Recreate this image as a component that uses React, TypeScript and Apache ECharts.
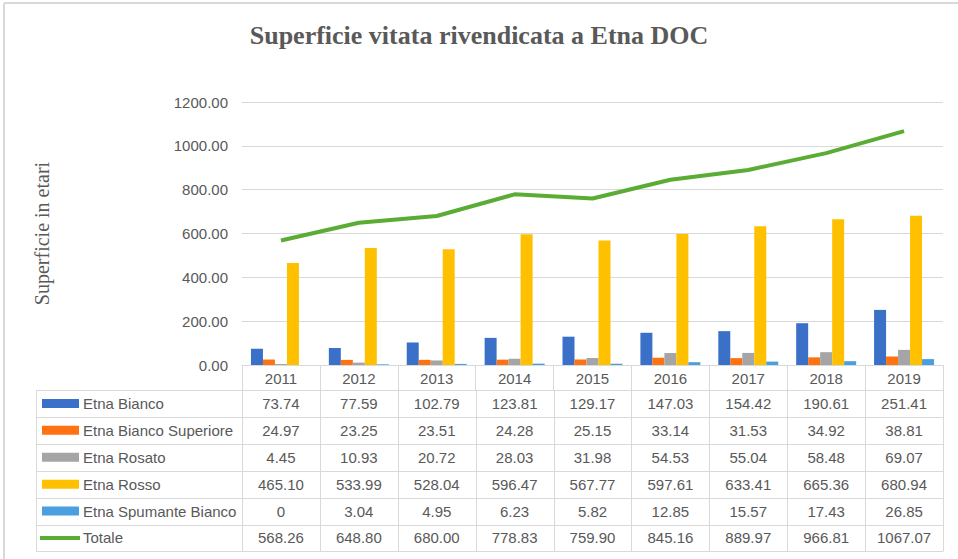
import React, { useEffect, useRef } from "react";
import * as echarts from "echarts";

const years = ["2011", "2012", "2013", "2014", "2015", "2016", "2017", "2018", "2019"];
const etnaBianco = [73.74, 77.59, 102.79, 123.81, 129.17, 147.03, 154.42, 190.61, 251.41];
const etnaBiancoSuperiore = [24.97, 23.25, 23.51, 24.28, 25.15, 33.14, 31.53, 34.92, 38.81];
const etnaRosato = [4.45, 10.93, 20.72, 28.03, 31.98, 54.53, 55.04, 58.48, 69.07];
const etnaRosso = [465.1, 533.99, 528.04, 596.47, 567.77, 597.61, 633.41, 665.36, 680.94];
const etnaSpumanteBianco = [0, 3.04, 4.95, 6.23, 5.82, 12.85, 15.57, 17.43, 26.85];
const totale = [568.26, 648.8, 680.0, 778.83, 759.9, 845.16, 889.97, 966.81, 1067.07];

const barSeries = [
  { name: "Etna Bianco", data: etnaBianco, color: "#3B70C9" },
  { name: "Etna Bianco Superiore", data: etnaBiancoSuperiore, color: "#FF7212" },
  { name: "Etna Rosato", data: etnaRosato, color: "#A5A5A5" },
  { name: "Etna Rosso", data: etnaRosso, color: "#FFC000" },
  { name: "Etna Spumante Bianco", data: etnaSpumanteBianco, color: "#4A9FE0" },
];
const lineSeries = { name: "Totale", data: totale, color: "#5BAC35" };

const TEXT = "#595959";
const GRID_LINE = "#d9d9d9";
const FONT = "'Liberation Sans', Arial, sans-serif";
const SERIF = "'Liberation Serif', 'Times New Roman', serif";

const fmt = (v: number) => (v === 0 ? "0" : v.toFixed(2));

export default function App() {
  const ref = useRef<HTMLDivElement>(null);
  useEffect(() => {
    if (!ref.current) return;
    const chart = echarts.init(ref.current, undefined, { renderer: "svg" });
    const option: any = {
      animation: false,
      backgroundColor: "#ffffff",
      title: {
        text: "Superficie vitata rivendicata a Etna DOC",
        left: "center",
        top: 17,
        textStyle: { fontFamily: SERIF, fontSize: 26, fontWeight: "bold", color: TEXT },
      },
      grid: { left: 242, right: 15, top: 102, bottom: 194 },
      xAxis: {
        type: "category",
        data: years,
        axisLine: { show: true, lineStyle: { color: GRID_LINE, width: 1 } },
        axisTick: { show: true, length: 25, lineStyle: { color: GRID_LINE } },
        axisLabel: { color: TEXT, fontFamily: FONT, fontSize: 15, margin: 6 },
      },
      yAxis: {
        type: "value",
        min: 0,
        max: 1200,
        interval: 200,
        name: "Superficie in etari",
        nameLocation: "middle",
        nameRotate: 90,
        nameGap: 190,
        nameTextStyle: { fontFamily: SERIF, fontSize: 20, color: TEXT },
        axisLine: { show: false },
        axisTick: { show: false },
        axisLabel: {
          color: TEXT,
          fontFamily: FONT,
          fontSize: 15,
          margin: 14,
          formatter: (v: number) => v.toFixed(2),
        },
        splitLine: { lineStyle: { color: GRID_LINE, width: 1 } },
      },
      series: [
        ...barSeries.map((s) => ({
          name: s.name,
          type: "bar",
          data: s.data,
          barGap: "0%",
          barCategoryGap: "23%",
          itemStyle: { color: s.color },
        })),
        {
          name: lineSeries.name,
          type: "line",
          data: lineSeries.data,
          symbol: "none",
          lineStyle: { color: lineSeries.color, width: 4 },
          z: 5,
        },
      ],
    };
    chart.setOption(option);

    // Build data table from axis scales
    const cx = years.map((y) => chart.convertToPixel({ xAxisIndex: 0 }, y) as number);
    const cw = cx.length > 1 ? cx[1] - cx[0] : 78;
    const axisY = chart.convertToPixel({ yAxisIndex: 0 }, 0) as number;
    const plotLeft = cx[0] - cw / 2;
    const plotRight = cx[cx.length - 1] + cw / 2;
    const headerH = 25;
    const rowH = 26.9;
    const tableLeft = 36;
    const rows = [
      ...barSeries.map((s) => ({ name: s.name, data: s.data, color: s.color, kind: "bar" })),
      { name: lineSeries.name, data: lineSeries.data, color: lineSeries.color, kind: "line" },
    ];
    const tableTop = axisY + headerH;
    const tableBottom = tableTop + rowH * rows.length;
    const elements: any[] = [];
    const lineStyle = { stroke: GRID_LINE, lineWidth: 1 };
    // frame
    elements.push({ type: "line", shape: { x1: 4, y1: 3, x2: 958, y2: 3 }, style: { stroke: "#d9d9d9", lineWidth: 2 } });
    elements.push({ type: "line", shape: { x1: 4, y1: 3, x2: 4, y2: 559 }, style: { stroke: "#d9d9d9", lineWidth: 2 } });
    // horizontal lines
    for (let i = 0; i <= rows.length; i++) {
      const y = Math.round(tableTop + rowH * i) + 0.5;
      elements.push({ type: "line", shape: { x1: tableLeft, y1: y, x2: plotRight, y2: y }, style: lineStyle });
    }
    // vertical lines
    elements.push({ type: "line", shape: { x1: tableLeft + 0.5, y1: tableTop, x2: tableLeft + 0.5, y2: tableBottom }, style: lineStyle });
    for (let j = 0; j <= years.length; j++) {
      const x = Math.round(plotLeft + cw * j) + 0.5;
      elements.push({ type: "line", shape: { x1: x, y1: tableTop, x2: x, y2: tableBottom }, style: lineStyle });
    }
    rows.forEach((r, i) => {
      const yc = tableTop + rowH * i + rowH / 2;
      if (r.kind === "bar") {
        elements.push({ type: "rect", shape: { x: 42, y: yc - 4.5, width: 37, height: 9 }, style: { fill: r.color } });
      } else {
        elements.push({ type: "line", shape: { x1: 40, y1: yc, x2: 80, y2: yc }, style: { stroke: r.color, lineWidth: 4 } });
      }
      elements.push({
        type: "text",
        x: 83,
        y: yc,
        style: { text: r.name, fill: TEXT, font: `15px ${FONT}`, textAlign: "left", textVerticalAlign: "middle" },
      });
      r.data.forEach((v, j) => {
        elements.push({
          type: "text",
          x: cx[j],
          y: yc,
          style: { text: fmt(v), fill: TEXT, font: `15px ${FONT}`, textAlign: "center", textVerticalAlign: "middle" },
        });
      });
    });
    chart.setOption({ graphic: elements });

    return () => chart.dispose();
  }, []);
  return (
    <div
      ref={ref}
      style={{ position: "fixed", left: 0, top: 0, width: 958, height: 559, background: "#fff" }}
    />
  );
}
